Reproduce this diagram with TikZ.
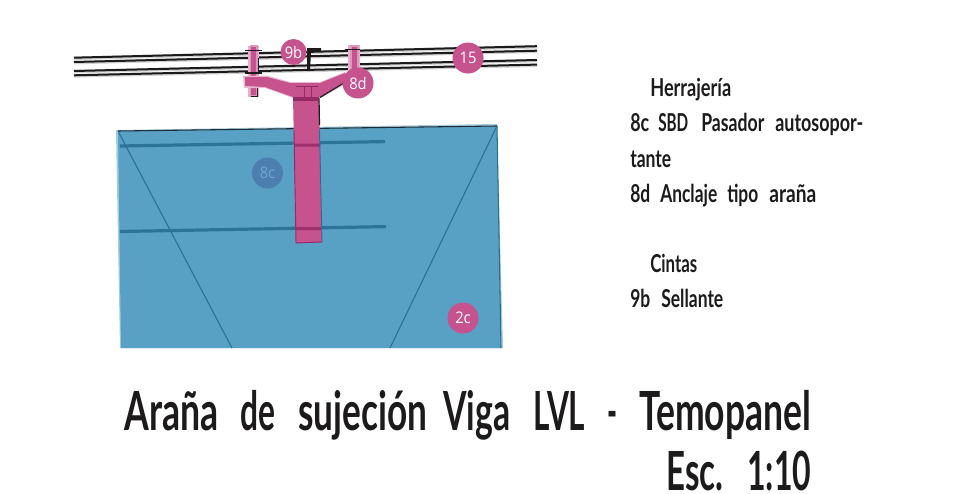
\documentclass[tikz,border=0pt]{standalone}
\usepackage{fontspec}
\setmainfont{Carlito}
\newfontfamily\labelfont{Lato}
\newfontfamily\tagfont[FakeStretch=0.92]{Open Sans}
\definecolor{panelblue}{HTML}{59A1C4}
\definecolor{barblue}{HTML}{2C7398}
\definecolor{edgeblue}{HTML}{2A6F92}
\definecolor{pinkfill}{HTML}{C6528E}
\definecolor{pinkdark}{HTML}{962A66}
\definecolor{railblack}{HTML}{1C1A1B}
\definecolor{tagblue}{HTML}{4C7FB0}
\definecolor{tagtext}{HTML}{70A8CE}
\tikzset{
  x=0.75pt,y=-0.75pt,
  tag/.style={circle,fill=pinkfill,text=white,inner sep=0pt,minimum size=31*0.75pt,font=\tagfont\fontsize{12}{12}\selectfont},
  rail/.style={draw=railblack,line width=1.5pt},
  railhalo/.style={draw=black!35,line width=2.6pt},
  panelline/.style={draw=edgeblue,line width=0.8pt},
  bar/.style={draw=barblue,line width=2.4pt},
  bolt/.style={fill=pinkfill,draw=pinkfill!60,line width=1.2pt},
  inktext/.style={anchor=base west,inner sep=0pt,font=\labelfont\bfseries\fontsize{18.5}{18.5}\selectfont,text=railblack},
  titletext/.style={anchor=base west,inner sep=0pt,font=\labelfont\bfseries\fontsize{40.5}{40.5}\selectfont,text=railblack},
}
% a word set to a given width in reference pixels, followed by a gap
\newcommand{\fw}[2]{\resizebox{\dimexpr #1pt*3/4\relax}{\height}{#2}}
\newcommand{\pg}[1]{\hspace*{\dimexpr #1pt*3/4\relax}}
\begin{document}
\begin{tikzpicture}
\useasboundingbox (0,0) rectangle (953,493);
% rails
\foreach \a/\b in {57.7/46.2,62/50.7,71/60,75.3/64.6}{
  \draw[railhalo,draw opacity=.5] (74,\a+0.6) -- (537,\b+0.6);
  \draw[rail] (74,\a) -- (537,\b);
}
% panel
\fill[panelblue!55,draw=none] (116,130) -- (497,124) -- (503,348) -- (120,348) -- cycle;
\fill[panelblue] (118,131) -- (497,126) -- (501,348) -- (121,348) -- cycle;
\draw[draw=railblack!80!edgeblue,line width=0.8pt] (118,131) -- (497,126);
\draw[panelline] (497,126) -- (501,348);
\draw[panelline] (118,131) -- (232,348);
\draw[panelline] (497,126) -- (390,348);
\draw[bar] (120,146) -- (385,141.6);
\draw[bar] (120,231.5) -- (386,226.6);
% column
\fill[pinkfill] (293,97) -- (319,97) -- (322,242) -- (296,243) -- cycle;
\fill[pinkdark!85!pinkfill] (294,143.5) rectangle (320,146.5) (295.5,227) rectangle (321.5,230);
\draw[pinkdark,line width=0.7pt] (294,130) -- (296,243) -- (322,242);
\draw[edgeblue,line width=0.7pt] (319.5,130) -- (322,242);
\draw[railblack,line width=0.9pt] (319,97) -- (319.5,125);
% bolts
\fill[pinkfill!45] (248,46) rectangle (259,97);
\draw[bolt] (250.5,46) rectangle (257,96);
\draw[railblack,line width=0.7pt] (258,58) -- (258,73);
\fill[pinkfill!45] (348,45) rectangle (360,73);
\draw[bolt] (351,46) rectangle (358,73);
\draw[railblack,line width=0.8pt] (245,50.5) -- (262,50.5) (245,73) -- (262,73) (345,49.5) -- (360,49.5);
\draw[railblack,line width=0.7pt] (257,86) -- (257,96) -- (251,96);
% spider
\fill[pinkfill!40] (243,76) -- (267,75.5) -- (290,82) -- (320,82) -- (345,72) -- (350,82) -- (320,98) -- (293,98) -- (265,88) -- (244,88) -- cycle;
\fill[pinkfill] (245,77) -- (267,77) -- (290,83) -- (320,83) -- (345,73) -- (347,80) -- (320,97) -- (293,97) -- (265,87) -- (245,86) -- cycle;
\draw[railblack,line width=0.9pt] (320,97.5) -- (347,81);
\draw[pinkdark,line width=0.6pt] (296,86) -- (318,86) (304,86) -- (304,97) (311,86) -- (311,97);
\fill[pinkdark] (293,97) rectangle (319,100.5);
% sealant
\fill[railblack] (307,48) -- (321,48) -- (321,51.5) -- (311,51.5) -- (310,71) -- (307,71) -- cycle;
% tags
\node[tag,minimum size=26*0.75pt] (t9b) at (293.5,52) {9b};
\node[tag] (t8d) at (358,83) {8d};
\node[tag] (t15) at (468,58) {15};
\node[tag] (t2c) at (463,318) {2c};
\node[tag,fill=tagblue,text=tagtext] (t8c) at (267.5,173) {8c};
% side text
\node[inktext] (h1) at (650,96) {\fw{81}{Herrajería}};
\node[inktext] (l1) at (630,131) {\fw{19}{8c}\pg{9}\fw{30}{SBD}\pg{13}\fw{63}{Pasador}\pg{11}\fw{88}{autosopor-}};
\node[inktext] (l2) at (630,167) {\fw{41}{tante}};
\node[inktext] (l3) at (630,202) {\fw{20}{8d}\pg{10}\fw{57}{Anclaje}\pg{10}\fw{31}{tipo}\pg{11}\fw{47}{araña}};
\node[inktext] (h2) at (650,272) {\fw{47}{Cintas}};
\node[inktext] (l4) at (630,307) {\fw{20}{9b}\pg{11}\fw{62}{Sellante}};
% title
\node[titletext] (ti1) at (124,430) {\fw{94}{Araña}\pg{22}\fw{35}{de}\pg{23}\fw{129}{sujeción}\pg{16}\fw{67}{Viga}\pg{23}\fw{52}{LVL}\pg{22}\fw{10}{-}\pg{22}\fw{172}{Temopanel}};
\node[titletext] (ti2) at (666,490.5) {\fw{57}{Esc.}\pg{24}\fw{64}{1:10}};
\end{tikzpicture}
\end{document}
